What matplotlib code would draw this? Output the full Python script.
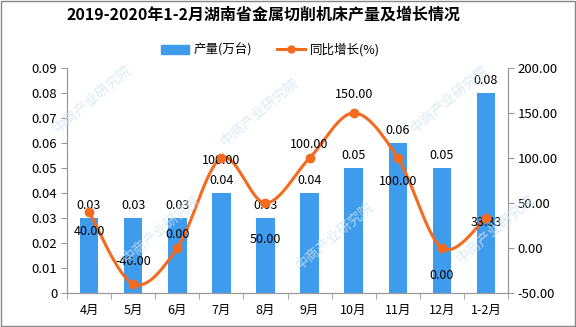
import numpy as np
import matplotlib.pyplot as plt
from matplotlib.patches import Rectangle

plt.rcParams['font.family'] = ['Noto Sans CJK SC', 'DejaVu Sans']

months = ['4月', '5月', '6月', '7月', '8月', '9月', '10月', '11月', '12月', '1-2月']
output = [0.03, 0.03, 0.03, 0.04, 0.03, 0.04, 0.05, 0.06, 0.05, 0.08]
growth = [40.00, -40.00, 0.00, 100.00, 50.00, 100.00, 150.00, 100.00, 0.00, 33.33]
# where each growth label sits relative to its point (pixels)
growth_offsets = [-14, 16, 10, -2, -26, 10, 13, -17, -20, -3]

bar_color = '#3f9bec'
line_color = '#f46b1f'


def smooth(xs, ys, n=30):
    # bezier smoothing like office charts (catmull-rom control points)
    xs = np.asarray(xs, float)
    ys = np.asarray(ys, float)
    px = np.concatenate([[xs[0]], xs, [xs[-1]]])
    py = np.concatenate([[ys[0]], ys, [ys[-1]]])
    out_x, out_y = [], []
    t = np.linspace(0, 1, n)
    for i in range(1, len(px) - 2):
        p0x, p1x, p2x, p3x = px[i - 1], px[i], px[i + 1], px[i + 2]
        p0y, p1y, p2y, p3y = py[i - 1], py[i], py[i + 1], py[i + 2]
        c1x = p1x + (p2x - p0x) / 6
        c1y = p1y + (p2y - p0y) / 6
        c2x = p2x - (p3x - p1x) / 6
        c2y = p2y - (p3y - p1y) / 6
        bx = (1 - t)**3 * p1x + 3 * (1 - t)**2 * t * c1x + 3 * (1 - t) * t**2 * c2x + t**3 * p2x
        by = (1 - t)**3 * p1y + 3 * (1 - t)**2 * t * c1y + 3 * (1 - t) * t**2 * c2y + t**3 * p2y
        out_x.extend(bx)
        out_y.extend(by)
    return np.array(out_x), np.array(out_y)


fig = plt.figure(figsize=(5.76, 3.27), dpi=100)
ax = fig.add_axes([0.1163, 0.104, 0.7657, 0.688])
ax2 = ax.twinx()

x = np.arange(len(months))

# watermark
for wx, wy in [(0.16, 0.70), (0.45, 0.66), (0.78, 0.70), (0.28, 0.30), (0.58, 0.28), (0.86, 0.30)]:
    fig.text(wx, wy, '中商产业研究院', fontsize=10, color='#d3e4ef', rotation=40,
             ha='center', va='center', alpha=0.8, zorder=0)

bars = ax.bar(x, output, width=0.42, color=bar_color, zorder=2)
for xi, v in zip(x, output):
    ax.annotate('{:.2f}'.format(v), (xi, v), xytext=(0, 4), textcoords='offset points',
                ha='center', va='bottom', fontsize=9, color='black')

sx, sy = smooth(x, growth)
ax2.plot(sx, sy, color=line_color, lw=2.2, zorder=3)
ax2.plot(x, growth, 'o', color=line_color, markersize=6, zorder=4)
for xi, v, off in zip(x, growth, growth_offsets):
    ax2.annotate('{:.2f}'.format(v), (xi, v), xytext=(0, off), textcoords='offset points',
                 ha='center', va='center', fontsize=9, color='black')

ax.set_xlim(-0.5, len(months) - 0.5)
ax.set_ylim(0, 0.09)
ax.set_yticks(np.arange(0, 0.091, 0.01))
ax.set_yticklabels(['0'] + ['{:.2f}'.format(v) for v in np.arange(0.01, 0.091, 0.01)])
ax2.set_ylim(-50, 200)
ax2.set_yticks(np.arange(-50, 201, 50))
ax2.set_yticklabels(['{:.2f}'.format(v) for v in np.arange(-50, 201, 50)])

ax.set_xticks(x)
ax.set_xticklabels(months)
ax.set_xticks(np.arange(-0.5, len(months), 1), minor=True)
ax.tick_params(axis='x', which='major', length=0, pad=8, labelsize=9)
ax.tick_params(axis='x', which='minor', length=4, color='#999999')
ax.tick_params(axis='y', length=4, color='#999999', labelsize=9.5, pad=3)
ax2.tick_params(axis='y', length=4, color='#999999', labelsize=9.5, pad=3)

for a in (ax, ax2):
    a.spines['top'].set_visible(False)
    for s in ('left', 'right', 'bottom'):
        a.spines[s].set_color('#999999')
    a.patch.set_visible(False)

fig.text(0.457, 0.954, '2019-2020年1-2月湖南省金属切削机床产量及增长情况',
         ha='center', va='center', fontsize=11.5, fontweight='bold')

h1 = Rectangle((0, 0), 1, 1, color=bar_color)
h2, = ax2.plot([], [], color=line_color, lw=2.2, marker='o', markersize=5)
fig.legend([h1, h2], ['产量(万台)', '同比增长(%)'], loc='center', bbox_to_anchor=(0.47, 0.848),
           ncol=2, frameon=False, fontsize=9, handlelength=2.2, columnspacing=2.0,
           handletextpad=0.4)

fig.add_artist(Rectangle((0.001, 0.002), 0.997, 0.995, transform=fig.transFigure,
                         fill=False, edgecolor='#888888', lw=1))

fig.savefig('out.png', dpi=100)
